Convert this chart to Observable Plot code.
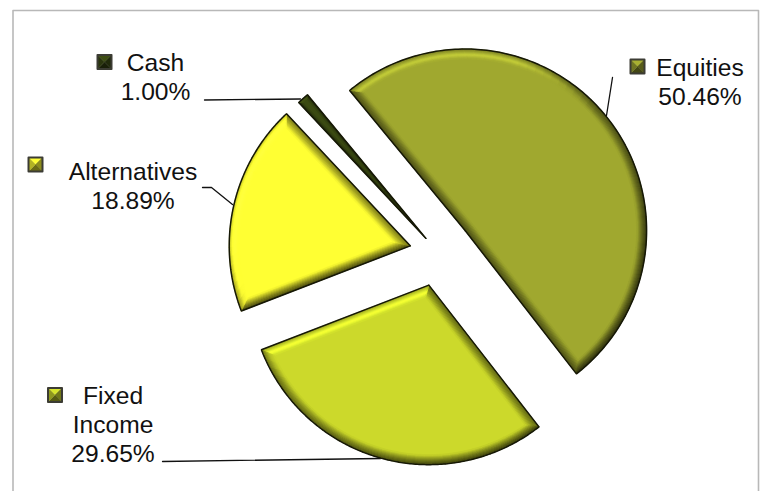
<!DOCTYPE html>
<html>
<head>
<meta charset="utf-8">
<script src="https://cdn.jsdelivr.net/npm/d3@7"></script>
<script src="https://cdn.jsdelivr.net/npm/@observablehq/plot@0.6"></script>
<style>
html,body{margin:0;padding:0;background:#fff;overflow:hidden}
svg{display:block}
</style>
</head>
<body>
<div id="chart"></div>
<script>
const categories = ["Equities", "Fixed Income", "Alternatives", "Cash"];
const shares = [50.46, 29.65, 18.89, 1.00];
const baseColors = ["#a0a82f", "#ccd92b", "#ffff33", "#3b4a12"];
const explode = [34.7, 34.2, 28.5, 18.5];
const radii = [181.5, 179.5, 181, 186];
const labelLines = [["Equities", "50.46%"], ["Fixed", "Income", "29.65%"], ["Alternatives", "18.89%"], ["Cash", "1.00%"]];

const W = 763, H = 491;
const pieCenter = [437.5, 251.7], startDeg = -39.5;
const bevelWidth = [10, 10, 10, 3];
const labelAnchor = [[699.5, 75], [112.5, 403], [132.5, 179], [155, 70]];
const lineGap = 29;
const markers = [[637, 66], [54.5, 394.5], [35, 164], [104, 61.5]];
const markerSize = 7;
const leaders = [
  [[612, 77], [606, 115]],
  [[162, 461], [380, 458]],
  [[202, 187], [211, 187], [232, 204]],
  [[204, 99.5], [300, 98.5]]
];

const rad = Math.PI / 180;
const light = [-0.6, -0.8];
const lerp = (a, b, t) => a + (b - a) * t;
const clamp = (v) => Math.max(0, Math.min(1, v));
const pt = (A, th, r) => [A[0] + r * Math.sin(th), A[1] - r * Math.cos(th)];
function tint(hex, f) {
  const c = d3.rgb(hex);
  return d3.rgb(Math.min(255, c.r * f), Math.min(255, c.g * f), Math.min(255, c.b * f)).formatHex();
}
function factor(s, t) {
  const k = clamp((s - 0.1) / 0.5);
  const dark = lerp(0.46 - 0.2 * clamp(-s), 1, Math.pow(t, 1.3));
  const lit = t < 0.6 ? lerp(0.7, 1.24, t / 0.6) : lerp(1.24, 1, (t - 0.6) / 0.4);
  return lerp(dark, lit, k);
}

let acc = startDeg * rad;
const slices = shares.map((v, i) => {
  const a0 = acc, a1 = acc + v / 100 * 2 * Math.PI;
  acc = a1;
  const mid = (a0 + a1) / 2;
  return {i, a0, a1, mid, half: (a1 - a0) / 2, R: radii[i], A: pt(pieCenter, mid, explode[i]), color: baseColors[i]};
});

const polys = [], outlines = [];
let pid = 0;
function addPoly(points, c) {
  const id = pid++;
  [...points, points[0]].forEach((p) => polys.push({x: p[0], y: p[1], id, c}));
}
function insetGeom(s, b) {
  const apex = pt(s.A, s.mid, b / Math.sin(s.half));
  const d = Math.asin(b / (s.R - b));
  return {apex, t0: s.a0 + d, t1: s.a1 - d, r: s.R - b};
}
function sliceOutline(s) {
  const g = insetGeom(s, 0), pts = [g.apex];
  for (let k = 0; k <= 180; k++) pts.push(pt(s.A, lerp(g.t0, g.t1, k / 180), g.r));
  return pts;
}
slices.forEach((s) => {
  const pts = sliceOutline(s);
  [...pts, pts[0]].forEach((p) => outlines.push({x: p[0], y: p[1], id: s.i, c: s.color}));
});
slices.forEach((s) => {
  const rings = Math.round(bevelWidth[s.i]);
  const n0 = [-Math.cos(s.a0), -Math.sin(s.a0)];
  const n1 = [Math.cos(s.a1), Math.sin(s.a1)];
  const s0 = n0[0] * light[0] + n0[1] * light[1];
  const s1 = n1[0] * light[0] + n1[1] * light[1];
  const segs = Math.max(3, Math.round((s.a1 - s.a0) / rad / 3));
  for (let j = 0; j < rings; j++) {
    const g = insetGeom(s, j), h = insetGeom(s, j + 1);
    const t = (j + 0.5) / rings;
    addPoly([g.apex, pt(s.A, g.t0, g.r), pt(s.A, h.t0, h.r), h.apex], tint(s.color, factor(s0, t)));
    addPoly([g.apex, pt(s.A, g.t1, g.r), pt(s.A, h.t1, h.r), h.apex], tint(s.color, factor(s1, t)));
    for (let k = 0; k < segs; k++) {
      const u = (k + 0.5) / segs;
      const th = lerp(s.a0, s.a1, u);
      const sa = Math.sin(th) * light[0] - Math.cos(th) * light[1];
      addPoly([
        pt(s.A, lerp(g.t0, g.t1, k / segs), g.r),
        pt(s.A, lerp(g.t0, g.t1, (k + 1) / segs), g.r),
        pt(s.A, lerp(h.t0, h.t1, (k + 1) / segs), h.r),
        pt(s.A, lerp(h.t0, h.t1, k / segs), h.r)
      ], tint(s.color, factor(sa, t)));
    }
  }
});

// legend keys: a square of four bevel facets
const keyPolys = [];
let kid = 0;
slices.forEach((s) => {
  const [cx, cy] = markers[s.i], m = markerSize;
  const corners = [[cx - m, cy - m], [cx + m, cy - m], [cx + m, cy + m], [cx - m, cy + m]];
  const shade = [1.05, 0.55, 0.42, 0.7];
  corners.forEach((c, q) => {
    const id = kid++, col = tint(s.color, shade[q]), next = corners[(q + 1) % 4];
    [c, next, [cx, cy], c].forEach((p) => keyPolys.push({x: p[0], y: p[1], id, c: col}));
  });
});
const keyBorders = slices.flatMap((s) => {
  const [cx, cy] = markers[s.i], m = markerSize;
  return [[-m, -m], [m, -m], [m, m], [-m, m], [-m, -m]].map((o) => ({x: cx + o[0], y: cy + o[1], id: s.i}));
});

const leaderRows = leaders.flatMap((l, i) => l.map((p) => ({x: p[0], y: p[1], id: i})));
const labelRows = labelLines.flatMap((lines, i) =>
  lines.map((text, k) => ({text, x: labelAnchor[i][0], y: labelAnchor[i][1] + k * lineGap})));
const frameRows = [{x: 12.5, y: H}, {x: 12.5, y: 10}, {x: 758, y: 10}, {x: 758, y: H}];

const plot = Plot.plot({
  width: W, height: H,
  margin: 0,
  x: {domain: [0, W], range: [0, W], axis: null},
  y: {domain: [0, H], range: [0, H], axis: null},
  color: {type: "identity"},
  style: {background: "#fff", fontFamily: "'Liberation Sans', Arial, sans-serif"},
  marks: [
    Plot.line(frameRows, {x: "x", y: "y", stroke: "#b8b8b8", strokeWidth: 1.6}),
    Plot.line(leaderRows, {x: "x", y: "y", z: "id", stroke: "#111", strokeWidth: 1.3}),
    Plot.line(outlines, {x: "x", y: "y", z: "id", fill: "c", stroke: "none"}),
    Plot.line(polys, {x: "x", y: "y", z: "id", fill: "c", stroke: "c", strokeWidth: 0.6, strokeLinejoin: "round"}),
    Plot.line(outlines, {x: "x", y: "y", z: "id", stroke: "#161806", strokeWidth: 1.5, strokeLinejoin: "miter"}),
    Plot.line(keyPolys, {x: "x", y: "y", z: "id", fill: "c", stroke: "c", strokeWidth: 0.4}),
    Plot.line(keyBorders, {x: "x", y: "y", z: "id", stroke: "#3c3c34", strokeWidth: 2}),
    Plot.text(labelRows, {x: "x", y: "y", text: "text", fontSize: 24.6, fill: "#111", textAnchor: "middle", lineAnchor: "bottom"})
  ]
});
document.getElementById("chart").appendChild(plot);
</script>
</body>
</html>
